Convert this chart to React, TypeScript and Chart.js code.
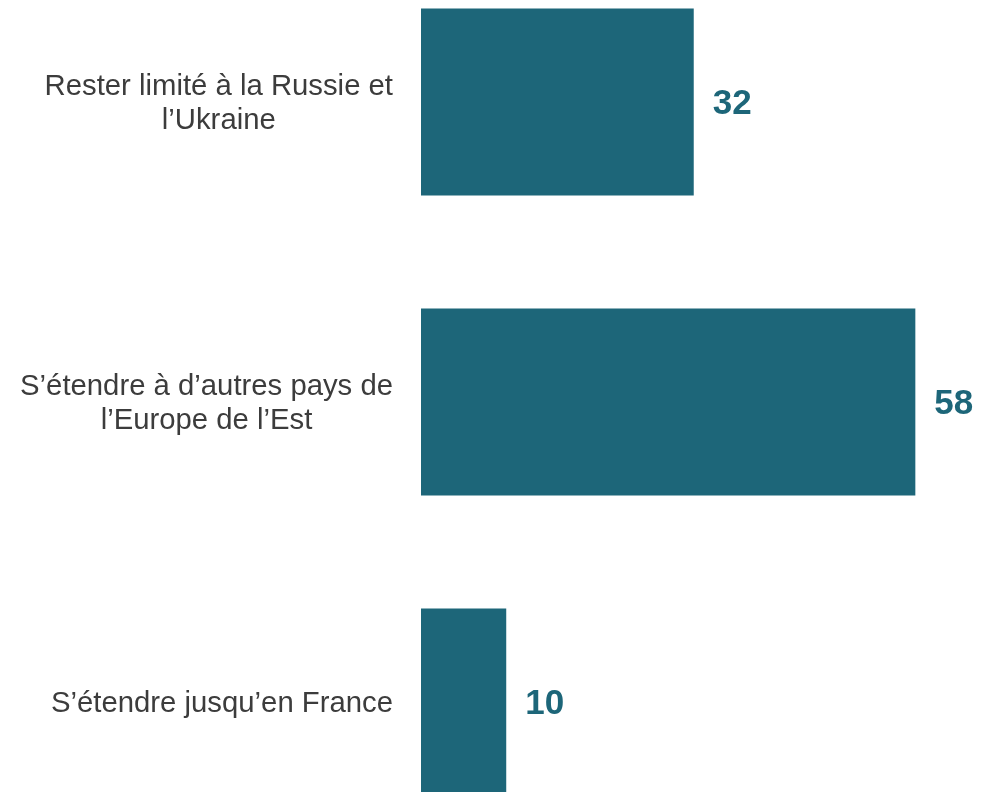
import React, { useEffect, useRef } from "react";
import { Chart, registerables } from "chart.js";

Chart.register(...registerables);

const categories: string[][] = [
  ["Rester limité à la Russie et", "l’Ukraine"],
  ["S’étendre à d’autres pays de", "l’Europe de l’Est"],
  ["S’étendre jusqu’en France"],
];
const values: number[] = [32, 58, 10];

const BAR_COLOR = "#1d6679";
const LABEL_COLOR = "#3c3c3c";
const FONT = "'Liberation Sans', Arial, sans-serif";

const labelPlugin = {
  id: "customLabels",
  afterDatasetsDraw(chart: any) {
    const ctx = chart.ctx;
    const yScale = chart.scales.y;
    const meta = chart.getDatasetMeta(0);
    ctx.save();
    ctx.font = `29.3px ${FONT}`;
    ctx.fillStyle = LABEL_COLOR;
    ctx.textAlign = "center";
    ctx.textBaseline = "middle";
    const lineH = 34;
    const rightEdge = chart.chartArea.left - 28;
    categories.forEach((lines, i) => {
      const cy = yScale.getPixelForValue(i) + 1.5;
      const widths = lines.map((l) => ctx.measureText(l).width);
      const bw = Math.max(...widths);
      const cx = rightEdge - bw / 2;
      const startY = cy - ((lines.length - 1) * lineH) / 2;
      lines.forEach((l, j) => {
        ctx.fillText(l, cx, startY + j * lineH);
      });
    });
    ctx.font = `bold 35px ${FONT}`;
    ctx.fillStyle = BAR_COLOR;
    ctx.textAlign = "left";
    meta.data.forEach((bar: any, i: number) => {
      ctx.fillText(String(values[i]), bar.x + 19, bar.y + 2);
    });
    ctx.restore();
  },
};

export default function App() {
  const ref = useRef<HTMLCanvasElement | null>(null);
  useEffect(() => {
    if (!ref.current) return;
    const chart = new Chart(ref.current, {
      type: "bar",
      data: {
        labels: categories.map((c) => c.join(" ")),
        datasets: [
          {
            data: values,
            backgroundColor: BAR_COLOR,
            borderWidth: 0,
            barPercentage: 0.6233,
            categoryPercentage: 1,
          },
        ],
      },
      options: {
        indexAxis: "y",
        animation: false,
        responsive: false,
        devicePixelRatio: 1,
        layout: { padding: { left: 421, right: 7, top: 0, bottom: 0 } },
        plugins: { legend: { display: false }, tooltip: { enabled: false } },
        scales: {
          x: { display: false, min: 0, max: 65 },
          y: { display: false },
        },
      },
      plugins: [labelPlugin],
    });
    return () => chart.destroy();
  }, []);
  return (
    <div
      style={{
        position: "fixed",
        left: 0,
        top: 0,
        width: 982,
        height: 792,
        overflow: "hidden",
        background: "#fff",
      }}
    >
      <canvas
        ref={ref}
        width={982}
        height={900}
        style={{ position: "absolute", left: 0, top: -48, width: 982, height: 900 }}
      />
    </div>
  );
}
